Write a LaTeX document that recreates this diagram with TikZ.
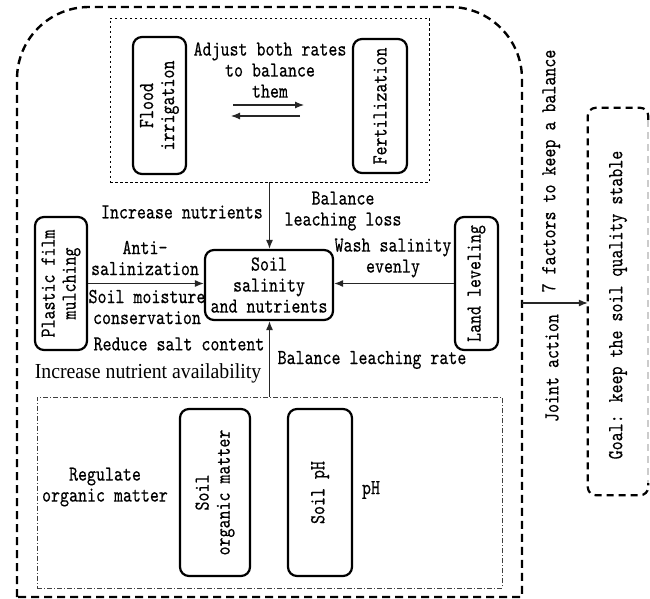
\documentclass[tikz,border=0pt]{standalone}
\usepackage{graphicx}
\usepackage{fontspec}
\newfontfamily\mfont{lmmono10-regular.otf}[FakeStretch=0.8,FakeBold=0.4]
\newfontfamily\tfont{Liberation Serif}[FakeStretch=0.925]
\usetikzlibrary{arrows.meta}
\begin{document}
\begin{tikzpicture}[x=1pt,y=-1pt,
  font=\mfont\fontsize{21.4}{21}\selectfont,
  box/.style={draw, line width=2.2pt, rounded corners=9pt, inner sep=0pt},
  arr/.style={-{Latex[length=9pt,width=7pt]}, line width=1.1pt, black!85},
  lbl/.style={align=center, inner sep=0pt},
  outerline/.style={line width=2.4pt, dash pattern=on 8pt off 5pt},
  goalline/.style={line width=2.2pt, dash pattern=on 7pt off 5pt},
  dotbox/.style={draw, line width=0.9pt, dash pattern=on 2.5pt off 2.5pt, inner sep=0pt},
  dashdotbox/.style={draw, black!75, line width=0.9pt, dash pattern=on 5pt off 2pt on 1pt off 2pt, inner sep=0pt},
]
\useasboundingbox (0,0) rectangle (650,599);

% outer dashed frame
\draw[outerline] (17,597) -- (17,79) arc[start angle=180,end angle=90,radius=72pt]
  -- (450,7) arc[start angle=90,end angle=0,radius=72pt] -- (522,597) -- cycle;

% top group
\node[dotbox, minimum width=319pt, minimum height=164pt] (topbox) at (269.5,100) {};
\node[box, minimum width=53pt, minimum height=137pt] (flood) at (159.5,105.5) {};
\node[lbl, rotate=90] (floodt) at (flood.center) {Flood\\irrigation};
\node[box, minimum width=54pt, minimum height=134pt] (fert) at (380,106) {};
\node[lbl, rotate=90] (fertt) at (fert.center) {Fertilization};
\node[lbl] (adj) at (270,70) {Adjust both rates\\to balance\\them};
\coordinate (r1) at (233,105); \coordinate (r2) at (304,105);
\coordinate (l1) at (300,116); \coordinate (l2) at (231,116);
\draw[arr] (r1) -- (r2);
\draw[arr] (l1) -- (l2);

% centre
\node[box, minimum width=128pt, minimum height=70pt] (soil) at (269,285) {};
\node[lbl] (soilt) at (soil.center) {Soil\\salinity\\and nutrients};
\draw[arr] (topbox.south) -- (topbox.south |- soil.north);

% left
\node[box, minimum width=52pt, minimum height=133pt] (plastic) at (61,283.5) {};
\node[lbl, rotate=90] (plastict) at (plastic.center) {Plastic film\\mulching};
\draw[arr] (plastic.east) -- (plastic.east -| soil.west);

% right
\node[box, minimum width=43pt, minimum height=133pt] (land) at (476.5,283.5) {};
\node[lbl, rotate=90] (landt) at (land.center) {Land leveling};
\draw[arr] (land.west) -- (land.west -| soil.east);

% bottom group
\node[dashdotbox, minimum width=465pt, minimum height=191pt] (botbox) at (269.5,492.5) {};
\node[box, minimum width=70pt, minimum height=167pt] (som) at (215,492.5) {};
\node[lbl, rotate=90] (somt) at (som.center) {Soil\\organic matter};
\node[box, minimum width=64pt, minimum height=167pt] (ph) at (320,492.5) {};
\node[lbl, rotate=90] (pht) at (ph.center) {Soil pH};
\draw[arr] (botbox.north) -- (botbox.north |- soil.south);

% labels
\node[lbl, anchor=east] (incn) at (263,212) {Increase nutrients};
\node[lbl] (bll) at (343,211) {Balance\\leaching loss};
\node[lbl] (anti) at (145,258) {Anti-\\salinization};
\node[lbl] (smc) at (147,307) {Soil moisture\\conservation};
\node[lbl] (rsc) at (179,344) {Reduce salt content};
\node[lbl, font=\tfont\fontsize{21.4}{21}\selectfont] (ina) at (148,373) {Increase nutrient availability};
\node[lbl] (wse) at (393,258) {Wash salinity\\evenly};
\node[lbl] (blr) at (372,360) {Balance leaching rate};
\node[lbl] (reg) at (105,487) {Regulate\\organic matter};
\node[lbl] (phl) at (371,490) {pH};

% goal
\node[minimum width=60pt, minimum height=387pt, inner sep=0pt] (goal) at (618,301.5) {};
\draw[goalline, rounded corners=8pt] ([yshift=-12pt]goal.north east) -- (goal.north east) -- (goal.north west)
  -- (goal.south west) -- (goal.south east) -- ([yshift=12pt]goal.south east);
\draw[goalline, black!20] ([yshift=-12pt]goal.north east) -- ([yshift=12pt]goal.south east);
\node[lbl, rotate=90] (goalt) at (618,305) {Goal: keep the soil quality stable};
\coordinate (outR) at (522,303);
\draw[arr] (outR) -- (outR -| goal.west);
\node[lbl, rotate=90] (joint) at (552,368) {Joint action};
\node[lbl, rotate=90] (seven) at (551,171) {7 factors to keep a balance};
\end{tikzpicture}
\end{document}
